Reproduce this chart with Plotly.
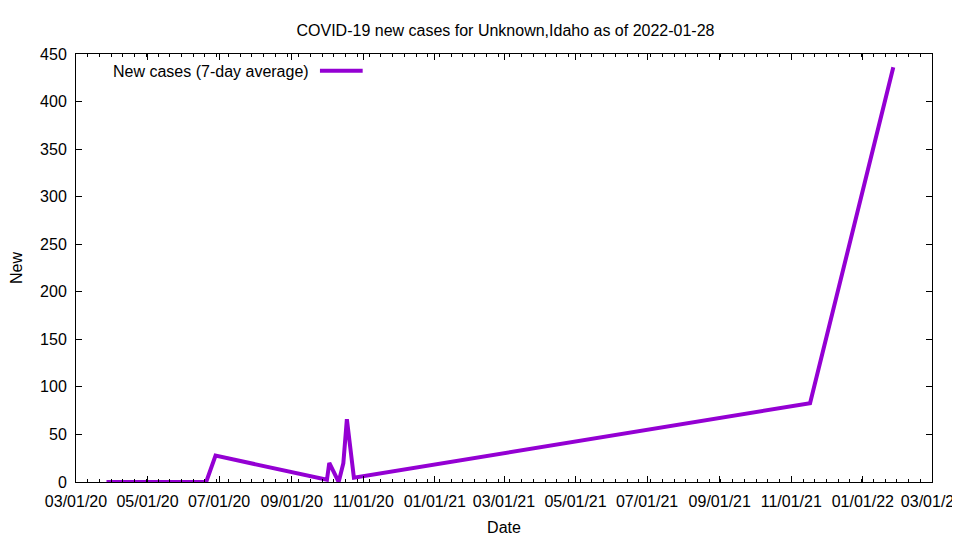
import plotly.graph_objects as go

dates = ["2020-03-27", "2020-06-20", "2020-06-28", "2020-10-01", "2020-10-03",
         "2020-10-11", "2020-10-15", "2020-10-18", "2020-10-24", "2021-11-17",
         "2022-01-27"]
new_cases = [0, 0, 27.7, 2.4, 20, 0, 19.7, 66, 4.6, 82.8, 436]

series_name = "New cases (7-day average)"
title_text = "COVID-19 new cases for Unknown,Idaho as of 2022-01-28"
line_color = "#9400D3"
font_family = "Liberation Sans, Arial, sans-serif"
fs = 16
x_range = ["2020-03-01", "2022-03-01"]

# page body has an 8px margin, so the figure is offset by 8px in the window
W, H = 952, 532

fig = go.Figure()
fig.add_trace(go.Scatter(x=dates, y=new_cases, mode="lines", name=series_name,
                         line=dict(color=line_color, width=4), showlegend=False))

axis_common = dict(showline=True, linecolor="black", linewidth=1,
                   ticks="inside", ticklen=6, tickcolor="black", showgrid=False,
                   zeroline=False, automargin=False, ticklabelstandoff=5,
                   tickfont=dict(family=font_family, size=fs, color="black"))

minor_x = dict(ticks="inside", ticklen=3, tickcolor="black",
               dtick=10 * 86400000, tick0="2020-03-01", showgrid=False)

fig.update_layout(
    xaxis=dict(type="date", range=x_range, dtick="M2", tick0="2020-03-01",
               tickformat="%m/%d/%y", minor=minor_x, ticklabeloverflow="allow",
               title=dict(text="Date", font=dict(family=font_family, size=fs, color="black"),
                          standoff=12),
               **axis_common),
    xaxis2=dict(type="date", range=x_range, dtick="M2", tick0="2020-03-01",
                minor=minor_x, overlaying="x", side="top", showticklabels=False,
                **axis_common),
    yaxis=dict(range=[0, 450], dtick=50, mirror="ticks",
               title=dict(text="New", font=dict(family=font_family, size=fs, color="black"),
                          standoff=22),
               **axis_common),
)

# invisible helper so the top axis is drawn
fig.add_trace(go.Scatter(x=x_range, y=[None, None], xaxis="x2", yaxis="y",
                         mode="lines", showlegend=False, hoverinfo="skip"))

# gnuplot-style legend: text then line sample
fig.add_annotation(xref="paper", yref="paper", x=0.2742, y=0.9586, xanchor="right",
                   yanchor="middle", text=series_name, showarrow=False,
                   font=dict(family=font_family, size=fs, color="black"))
fig.add_shape(type="line", xref="paper", yref="paper", x0=0.2850, x1=0.3349,
              y0=0.961, y1=0.961, line=dict(color=line_color, width=4))

fig.update_layout(
    width=W, height=H,
    margin=dict(l=68, r=28, t=46, b=58),
    paper_bgcolor="white", plot_bgcolor="white",
    title=dict(text=title_text, xref="container", yref="container", x=497.5 / W,
               xanchor="center", y=1 - 22.5 / H, yanchor="middle",
               font=dict(family=font_family, size=16, color="black")),
    font=dict(family=font_family, size=fs, color="black"),
)

fig.write_html("out.html")
